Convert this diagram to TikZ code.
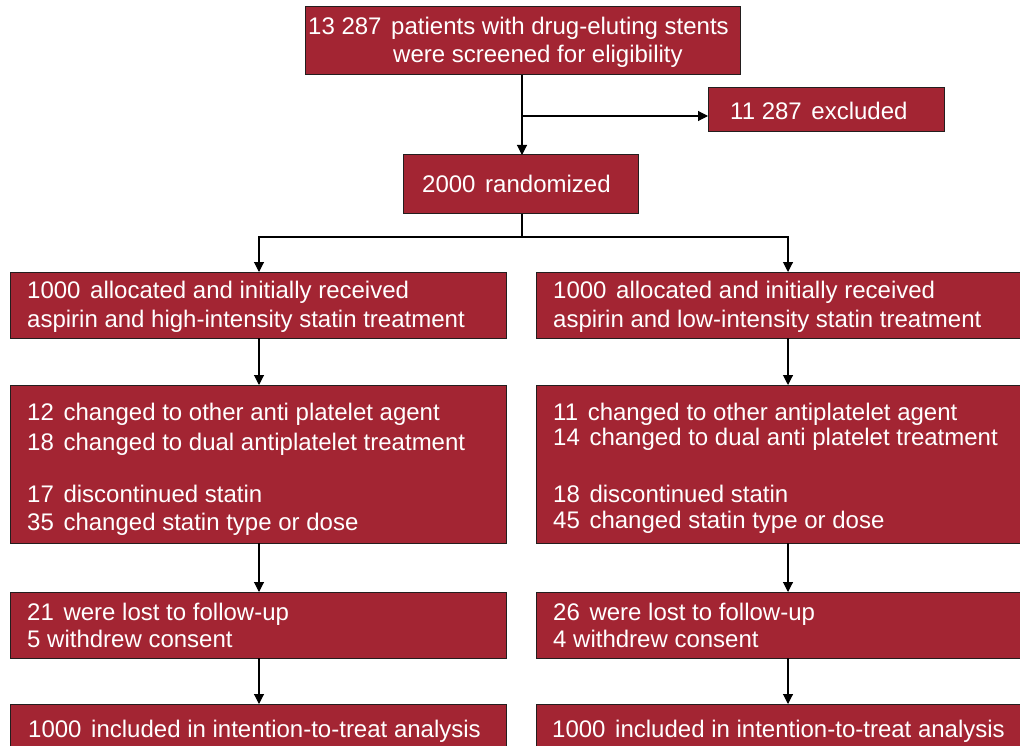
\documentclass[tikz,border=0pt]{standalone}
\usepackage{fontspec}
\setmainfont{Liberation Sans}
\usetikzlibrary{arrows.meta}
\definecolor{boxred}{RGB}{163,37,51}
\definecolor{edge}{RGB}{35,30,30}
\newcommand\numgap{\hspace{3pt}}
\tikzset{
  box/.style={draw=edge, fill=boxred, line width=1pt, inner sep=0pt, outer sep=0pt, anchor=north west},
  txt/.style={text=white, inner sep=0pt, anchor=base west, font=\fontsize{24}{28}\selectfont},
  conn/.style={draw=black, line width=1.1pt},
  arr/.style={conn, -{Triangle[length=10pt,width=10pt]}}
}
\begin{document}
\begin{tikzpicture}[x=1pt,y=-1pt]
\clip (0,0) rectangle (1020,746);
\fill[white] (0,0) rectangle (1020,746);
% boxes
\node[box, minimum width=435pt, minimum height=68pt] (top) at (305,7) {};
\node[box, minimum width=236pt, minimum height=44pt] (excl) at (708,88) {};
\node[box, minimum width=235pt, minimum height=59pt] (rand) at (403,155) {};
\node[box, minimum width=496pt, minimum height=66pt] (allocL) at (10,272) {};
\node[box, minimum width=490pt, minimum height=66pt] (allocR) at (536,272) {};
\node[box, minimum width=496pt, minimum height=158pt] (chgL) at (10,385) {};
\node[box, minimum width=490pt, minimum height=158pt] (chgR) at (536,385) {};
\node[box, minimum width=496pt, minimum height=66pt] (lostL) at (10,592) {};
\node[box, minimum width=490pt, minimum height=66pt] (lostR) at (536,592) {};
\node[box, minimum width=496pt, minimum height=60pt] (ittL) at (10,704) {};
\node[box, minimum width=490pt, minimum height=60pt] (ittR) at (536,704) {};
% texts
\node[txt] (t1a) at (308,35) {13 287\numgap{} patients with drug-eluting stents};
\node[txt] (t1b) at (393,63) {were screened for eligibility};
\node[txt] (t2) at (730,120) {11 287\numgap{} excluded};
\node[txt] (t3) at (422,193) {2000\numgap{} randomized};
\node[txt] (aL1) at (27,298) {1000\numgap{} allocated and initially received};
\node[txt] (aL2) at (27,327) {aspirin and high-intensity statin treatment};
\node[txt] (aR1) at (553,298) {1000\numgap{} allocated and initially received};
\node[txt] (aR2) at (553,327) {aspirin and low-intensity statin treatment};
\node[txt] (cL1) at (27,420) {12\numgap{} changed to other anti platelet agent};
\node[txt] (cL2) at (27,450) {18\numgap{} changed to dual antiplatelet treatment};
\node[txt] (cL3) at (27,502) {17\numgap{} discontinued statin};
\node[txt] (cL4) at (27,530) {35\numgap{} changed statin type or dose};
\node[txt] (cR1) at (553,420) {11\numgap{} changed to other antiplatelet agent};
\node[txt] (cR2) at (553,445) {14\numgap{} changed to dual anti platelet treatment};
\node[txt] (cR3) at (553,502) {18\numgap{} discontinued statin};
\node[txt] (cR4) at (553,528) {45\numgap{} changed statin type or dose};
\node[txt] (lL1) at (27,620) {21\numgap{} were lost to follow-up};
\node[txt] (lL2) at (27,647) {5 withdrew consent};
\node[txt] (lR1) at (553,620) {26\numgap{} were lost to follow-up};
\node[txt] (lR2) at (553,647) {4 withdrew consent};
\node[txt] (iL) at (28,737) {1000\numgap{} included in intention-to-treat analysis};
\node[txt] (iR) at (552,737) {1000\numgap{} included in intention-to-treat analysis};
% connectors
\coordinate (branch) at (522,116);
\coordinate (split) at (522,237);
\coordinate (splitL) at (259,237);
\coordinate (splitR) at (788,237);
\draw[arr] (top.south -| branch) -- (rand.north -| branch);
\draw[arr] (branch) -- (excl.west |- branch);
\draw[conn] (rand.south -| split) -- (split);
\draw[arr] (splitL) -- (splitR) -- (allocR.north -| splitR);
\draw[arr] (splitR) -- (splitL) -- (allocL.north -| splitL);
\draw[arr] (allocL.south -| splitL) -- (chgL.north -| splitL);
\draw[arr] (allocR.south -| splitR) -- (chgR.north -| splitR);
\draw[arr] (chgL.south -| splitL) -- (lostL.north -| splitL);
\draw[arr] (chgR.south -| splitR) -- (lostR.north -| splitR);
\draw[arr] (lostL.south -| splitL) -- (ittL.north -| splitL);
\draw[arr] (lostR.south -| splitR) -- (ittR.north -| splitR);
\end{tikzpicture}
\end{document}
